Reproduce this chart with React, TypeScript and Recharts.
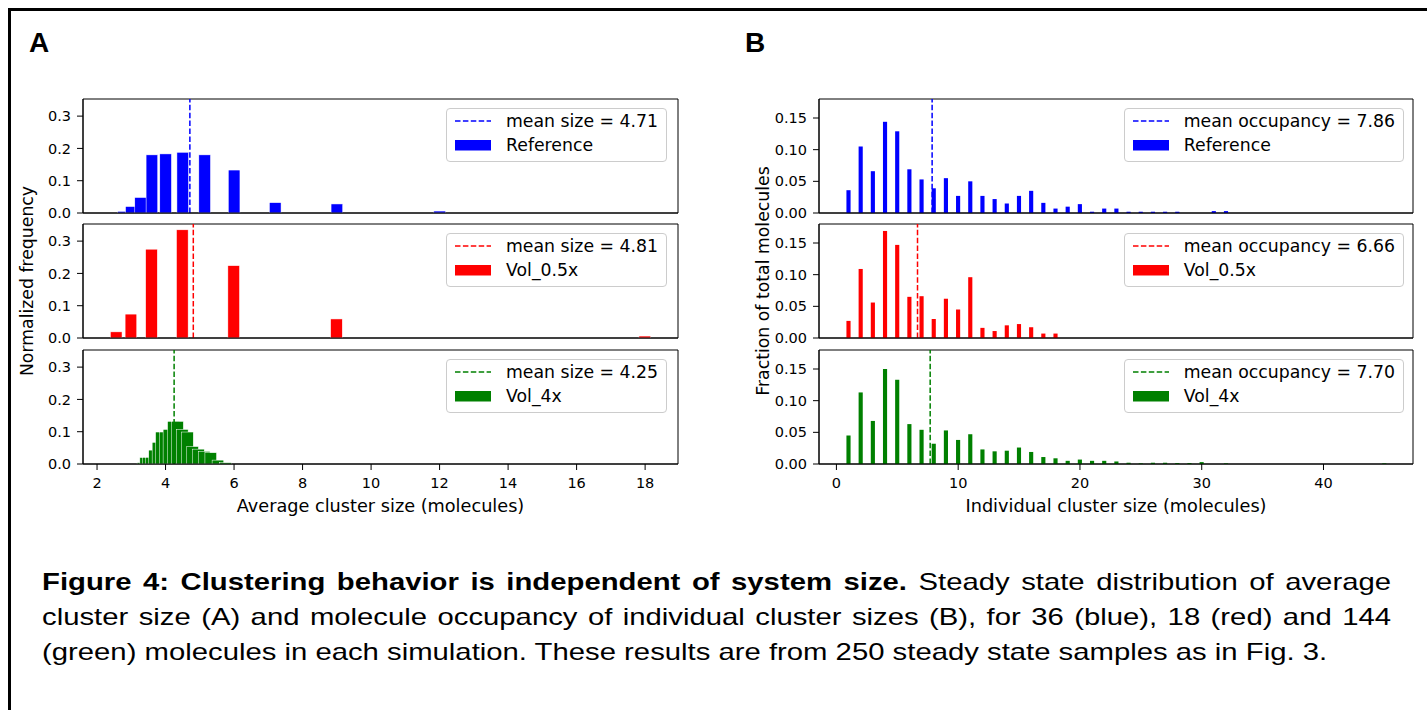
import React from 'react';
import { ComposedChart, Bar, XAxis, YAxis, ReferenceLine, ReferenceArea, Legend } from 'recharts';

// Panel A: average cluster size histograms
const avgRefSize = [2.77, 3.0, 3.27, 3.6, 4.0, 4.5, 5.14, 6.0, 7.2, 9.0, 12.0];
const avgRefFreq = [0.005, 0.02, 0.048, 0.18, 0.183, 0.188, 0.18, 0.133, 0.032, 0.028, 0.006];
const avgHalfSize = [2.57, 3.0, 3.6, 4.5, 6.0, 9.0, 18.0];
const avgHalfFreq = [0.019, 0.074, 0.275, 0.335, 0.224, 0.059, 0.006];
const avg4xSize = [3.35, 3.43, 3.51, 3.6, 3.69, 3.79, 3.89, 4.0, 4.11, 4.24, 4.36, 4.5, 4.65, 4.8, 4.97, 5.14, 5.33, 5.54, 5.76];
const avg4xFreq = [0.004, 0.02, 0.02, 0.02, 0.043, 0.067, 0.099, 0.099, 0.107, 0.132, 0.132, 0.107, 0.099, 0.054, 0.046, 0.039, 0.035, 0.012, 0.004];

// Panel B: occupancy of individual cluster sizes
const occRefSize = [1, 2, 3, 4, 5, 6, 7, 8, 9, 10, 11, 12, 13, 14, 15, 16, 17, 18, 19, 20, 21, 22, 23, 24, 25, 26, 27, 28, 31, 32];
const occRefFrac = [0.036, 0.105, 0.066, 0.144, 0.129, 0.069, 0.053, 0.039, 0.055, 0.027, 0.05, 0.027, 0.022, 0.015, 0.027, 0.035, 0.016, 0.007, 0.01, 0.014, 0.002, 0.007, 0.007, 0.002, 0.002, 0.002, 0.002, 0.002, 0.003, 0.003];
const occHalfSize = [1, 2, 3, 4, 5, 6, 7, 8, 9, 10, 11, 12, 13, 14, 15, 16, 17, 18];
const occHalfFrac = [0.027, 0.109, 0.056, 0.169, 0.147, 0.065, 0.066, 0.03, 0.062, 0.045, 0.096, 0.016, 0.011, 0.02, 0.022, 0.017, 0.007, 0.007];
const occ4xSize = [1, 2, 3, 4, 5, 6, 7, 8, 9, 10, 11, 12, 13, 14, 15, 16, 17, 18, 19, 20, 21, 22, 23, 24, 25, 26, 27, 28, 29, 30, 32, 45];
const occ4xFrac = [0.045, 0.113, 0.068, 0.15, 0.133, 0.063, 0.054, 0.032, 0.053, 0.038, 0.047, 0.023, 0.02, 0.021, 0.026, 0.019, 0.011, 0.009, 0.005, 0.007, 0.005, 0.005, 0.004, 0.002, 0.001, 0.002, 0.002, 0.0015, 0.0015, 0.003, 0.001, 0.001];

const avgMeans = [4.71, 4.81, 4.25];
const occMeans = [7.86, 6.66, 7.7];
const seriesNames = ['Reference', 'Vol_0.5x', 'Vol_4x'];
const seriesColors = ['#0000ff', '#ff0000', '#008000'];

const avgTicks = [2, 4, 6, 8, 10, 12, 14, 16, 18];
const occTicks = [0, 10, 20, 30, 40];
const freqTicks = [0, 0.1, 0.2, 0.3];
const fracTicks = [0, 0.05, 0.1, 0.15];

const FONT = '"DejaVu Sans", sans-serif';
const DASH = '5.5 2.4';
const PLOT_H = 114;
const ROW_TOPS = [99, 224, 350];

const PANELS: any = {
  A: {
    left: 10, axisW: 73, plotW: 595, xDomain: [1.59, 18.96], xTicks: avgTicks,
    yDomain: [0, 0.353], yTicks: freqTicks, digits: 1, barW: 0.34, legendRight: 14,
    xTitle: 'Average cluster size (molecules)', yTitle: 'Normalized frequency', yTitleX: 27,
    meanText: 'mean size', edge: true,
  },
  B: {
    left: 745, axisW: 74, plotW: 594, xDomain: [-1.43, 47.35], xTicks: occTicks,
    yDomain: [0, 0.18], yTicks: fracTicks, digits: 2, barW: 0.34, legendRight: 12,
    xTitle: 'Individual cluster size (molecules)', yTitle: 'Fraction of total molecules', yTitleX: 763,
    meanText: 'mean occupancy', edge: false,
  },
};

const histBar = (pxWidth: number, edge: boolean) => (p: any) => {
  const cx = p.x + p.width / 2;
  return (
    <rect
      x={cx - pxWidth / 2}
      y={p.y}
      width={pxWidth}
      height={Math.max(p.height, 0)}
      fill={p.fill}
      stroke={edge ? '#ffffff' : 'none'}
      strokeWidth={0.5}
    />
  );
};

const xTitle = (text: string) => (props: any) => {
  const vb = props.viewBox;
  return (
    <text x={vb.x + vb.width / 2} y={vb.y + 48} textAnchor="middle" fontSize={17.7} fontFamily={FONT} fill="#000">
      {text}
    </text>
  );
};

const legendBox = (color: string, meanLabel: string, name: string) => () => (
  <div style={{
    border: '1px solid #cccccc', borderRadius: 4, background: 'rgba(255,255,255,0.8)',
    padding: '0 8px 4px 8px', fontFamily: FONT, fontSize: 17.3, lineHeight: '24px', color: '#000',
  }}>
    <div style={{ display: 'flex', alignItems: 'center', height: 24 }}>
      <svg width={36} height={24} style={{ display: 'block' }}>
        <line x1={0} y1={12} x2={36} y2={12} stroke={color} strokeWidth={1.5} strokeDasharray={DASH} />
      </svg>
      <span style={{ marginLeft: 15, whiteSpace: 'nowrap' }}>{meanLabel}</span>
    </div>
    <div style={{ display: 'flex', alignItems: 'center', height: 24 }}>
      <svg width={36} height={24} style={{ display: 'block' }}>
        <rect x={0} y={7} width={36} height={10.5} fill={color} />
      </svg>
      <span style={{ marginLeft: 15, whiteSpace: 'nowrap' }}>{name}</span>
    </div>
  </div>
);

function Subplot({ panel, row, sizes, values, mean }: any) {
  const cfg = PANELS[panel];
  const color = seriesColors[row];
  const isBottom = row === 2;
  const xAxisH = isBottom ? 60 : 8;
  const width = cfg.axisW + cfg.plotW + 3;
  const height = 2 + PLOT_H + xAxisH;
  const data = sizes.map((x: number, i: number) => ({ x, y: values[i] }));
  const pxPerUnit = cfg.plotW / (cfg.xDomain[1] - cfg.xDomain[0]);
  const tickStyle = { fontSize: 14.5, fill: '#000', fontFamily: FONT };
  const meanLabel = `${cfg.meanText} = ${mean.toFixed(2)}`;

  return (
    <div style={{ position: 'absolute', left: cfg.left, top: ROW_TOPS[row] - 2 }}>
      <ComposedChart width={width} height={height} data={data} margin={{ top: 2, right: 3, bottom: 0, left: 0 }}>
        <XAxis
          type="number" dataKey="x" domain={cfg.xDomain} ticks={cfg.xTicks} allowDataOverflow interval={0}
          tick={isBottom ? tickStyle : false} tickSize={6} tickMargin={8} height={xAxisH} stroke="#000"
          label={isBottom ? xTitle(cfg.xTitle) : undefined}
        />
        <YAxis
          type="number" domain={cfg.yDomain} ticks={cfg.yTicks} allowDataOverflow interval={0} width={cfg.axisW}
          tick={tickStyle} tickSize={6} tickMargin={6} stroke="#000"
          tickFormatter={(v: number) => v.toFixed(cfg.digits)}
        />
        <ReferenceArea
          x1={cfg.xDomain[0]} x2={cfg.xDomain[1]} y1={cfg.yDomain[0]} y2={cfg.yDomain[1]}
          fill="none" stroke="#000" strokeWidth={1}
        />
        <Bar
          dataKey="y" fill={color} barSize={2} isAnimationActive={false}
          shape={histBar(cfg.barW * pxPerUnit, cfg.edge)}
        />
        <ReferenceLine x={mean} stroke={color} strokeDasharray={DASH} strokeWidth={1.5} />
        <Legend
          content={legendBox(color, meanLabel, seriesNames[row])}
          layout="vertical" align="center" verticalAlign="middle"
          wrapperStyle={{ top: 11, right: cfg.legendRight, width: 'auto' }}
        />
      </ComposedChart>
    </div>
  );
}

// shared y title spanning the three stacked subplots of a panel
function YTitle({ panel }: any) {
  const cfg = PANELS[panel];
  const cx = cfg.yTitleX;
  const cy = ROW_TOPS[1] + PLOT_H / 2;
  return (
    <svg style={{ position: 'absolute', left: cx - 15, top: cy - 160, overflow: 'visible' }} width={30} height={320}>
      <text x={15} y={160} transform="rotate(-90 15 160)" textAnchor="middle" dominantBaseline="central"
        fontSize={17.3} fontFamily={FONT} fill="#000">
        {cfg.yTitle}
      </text>
    </svg>
  );
}

const capFont = '"Liberation Sans", Arial, sans-serif';
const CAP_STRETCH = 1.22;

export default function App() {
  const lineStyle: any = { textAlign: 'justify', textAlignLast: 'justify', whiteSpace: 'nowrap' };
  return (
    <div style={{ position: 'absolute', left: 0, top: 0, width: 1427, height: 710, background: '#fff', overflow: 'hidden' }}>
      <div style={{ position: 'absolute', left: 8, top: 8, width: 1500, height: 800, borderLeft: '3px solid #000', borderTop: '3px solid #000' }} />
      <div style={{ position: 'absolute', left: 29, top: 29, fontFamily: capFont, fontWeight: 'bold', fontSize: 28, lineHeight: '28px' }}>A</div>
      <div style={{ position: 'absolute', left: 745, top: 29, fontFamily: capFont, fontWeight: 'bold', fontSize: 28, lineHeight: '28px' }}>B</div>

      <Subplot panel="A" row={0} sizes={avgRefSize} values={avgRefFreq} mean={avgMeans[0]} />
      <Subplot panel="A" row={1} sizes={avgHalfSize} values={avgHalfFreq} mean={avgMeans[1]} />
      <Subplot panel="A" row={2} sizes={avg4xSize} values={avg4xFreq} mean={avgMeans[2]} />
      <YTitle panel="A" />

      <Subplot panel="B" row={0} sizes={occRefSize} values={occRefFrac} mean={occMeans[0]} />
      <Subplot panel="B" row={1} sizes={occHalfSize} values={occHalfFrac} mean={occMeans[1]} />
      <Subplot panel="B" row={2} sizes={occ4xSize} values={occ4xFrac} mean={occMeans[2]} />
      <YTitle panel="B" />

      <div style={{
        position: 'absolute', left: 42, top: 564, width: 1349 / CAP_STRETCH, fontFamily: capFont, fontSize: 24,
        lineHeight: '35px', color: '#000', transform: `scaleX(${CAP_STRETCH})`, transformOrigin: '0 0',
      }}>
        <div style={lineStyle}>
          <b>Figure 4: Clustering behavior is independent of system size.</b> Steady state distribution of average
        </div>
        <div style={lineStyle}>
          cluster size (A) and molecule occupancy of individual cluster sizes (B), for 36 (blue), 18 (red) and 144
        </div>
        <div style={{ whiteSpace: 'nowrap' }}>
          (green) molecules in each simulation. These results are from 250 steady state samples as in Fig. 3.
        </div>
      </div>
    </div>
  );
}
